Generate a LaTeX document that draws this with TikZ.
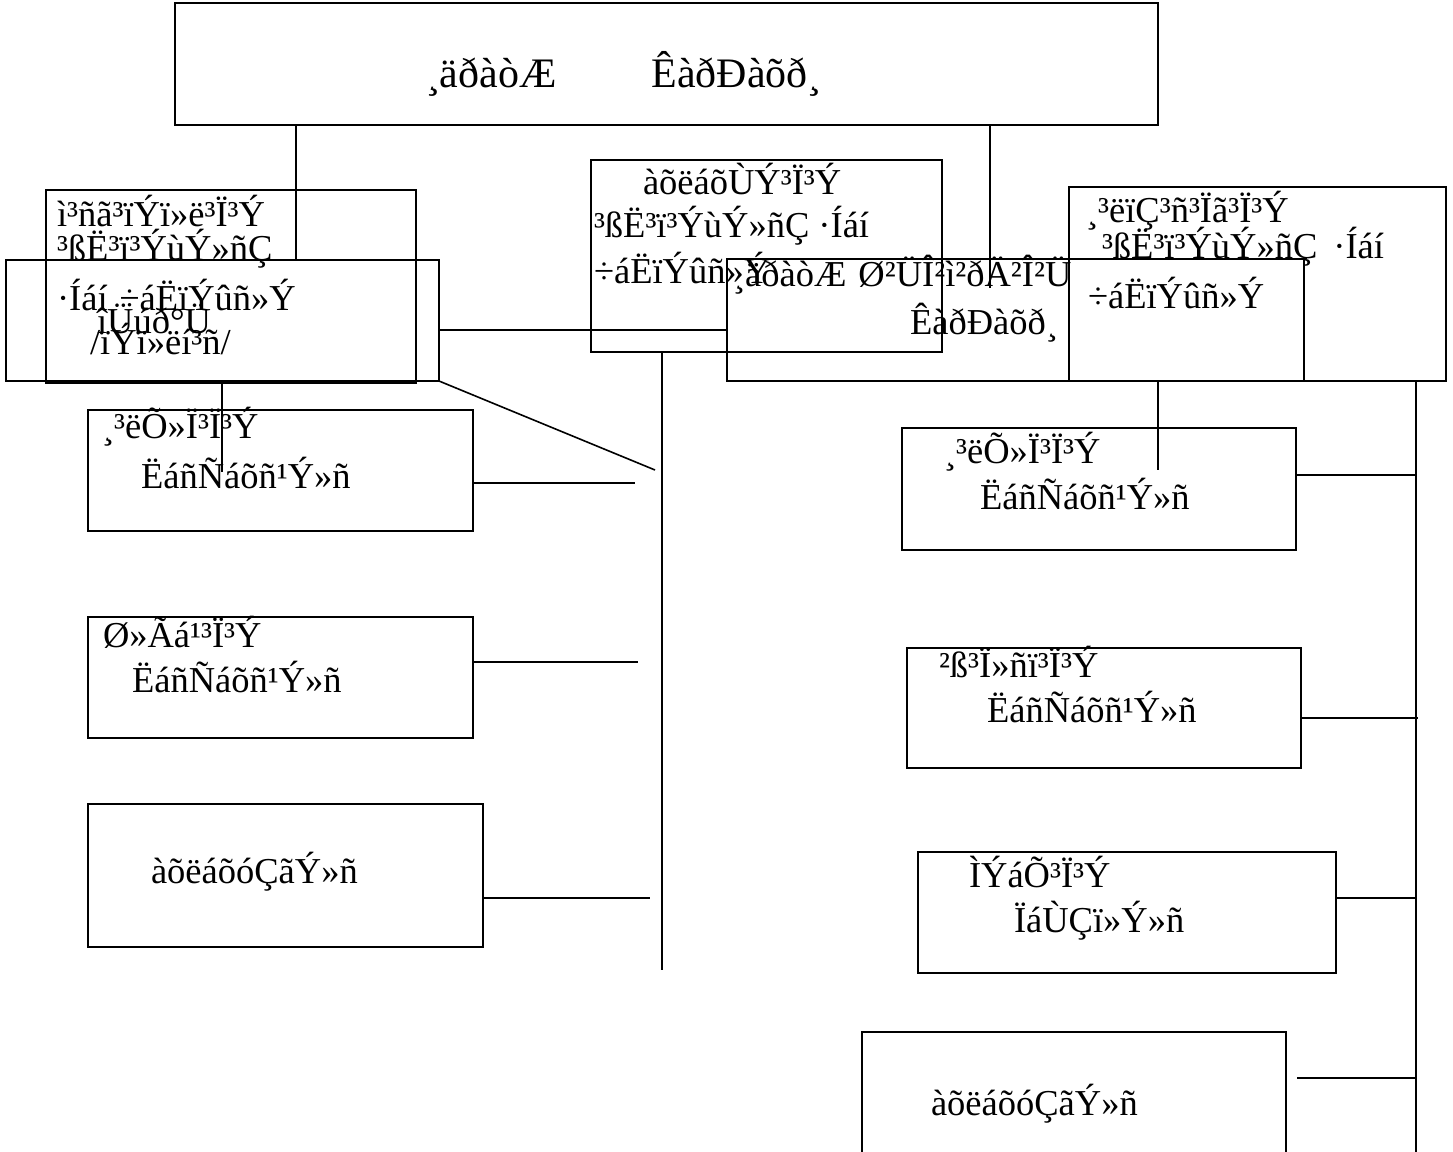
\documentclass[tikz,border=0pt]{standalone}
\usepackage{fontspec}
\setmainfont{Liberation Serif}
\begin{document}
\begin{tikzpicture}[x=1pt,y=-1pt,
  box/.style={draw,line width=1.6pt,inner sep=0pt,outer sep=0pt,anchor=north west},
  txt/.style={anchor=base west,inner sep=0pt,outer sep=0pt,font=\fontsize{36.5}{40}\selectfont},
  bigtxt/.style={anchor=base west,inner sep=0pt,outer sep=0pt,font=\fontsize{42}{46}\selectfont},
  link/.style={line width=1.6pt}]
\useasboundingbox (0,0) rectangle (1453,1151);
\clip (0,0) rectangle (1453,1151);
% boxes
\node[box,minimum width=983pt,minimum height=122pt] (top) at (175,3) {};
\node[box,minimum width=370pt,minimum height=193pt] (A) at (46,190) {};
\node[box,minimum width=433pt,minimum height=121pt] (B) at (6,260) {};
\node[box,minimum width=351pt,minimum height=192pt] (E) at (591,160) {};
\node[box,minimum width=577pt,minimum height=122pt] (D) at (727,259) {};
\node[box,minimum width=377pt,minimum height=194pt] (C) at (1069,187) {};
\node[box,minimum width=385pt,minimum height=121pt] (F) at (88,410) {};
\node[box,minimum width=385pt,minimum height=121pt] (G) at (88,617) {};
\node[box,minimum width=395pt,minimum height=143pt] (H) at (88,804) {};
\node[box,minimum width=394pt,minimum height=122pt] (I) at (902,428) {};
\node[box,minimum width=394pt,minimum height=120pt] (J) at (907,648) {};
\node[box,minimum width=418pt,minimum height=121pt] (K) at (918,852) {};
\node[box,minimum width=424pt,minimum height=140pt] (L) at (862,1032) {};
% texts
\node[bigtxt] (ttop) at (426,87) {¸äðàòÆ\hspace{95pt}ÊàðÐàõð¸};
\node[txt] (ta1) at (57,226) {ì³ñã³ïÝï»ë³Ï³Ý};
\node[txt] (ta2) at (57,260) {³ßË³ï³ÝùÝ»ñÇ};
\node[txt] (ta3) at (57,310) {·Íáí\hspace{12pt}÷áËïÝûñ»Ý};
\node[txt] (tb1) at (97,333) {îÜúð°Ü};
\node[txt] (tb2) at (90,354) {/ïÝï»ëí³ñ/};
\node[txt] (te1) at (643,194) {àõëáõÙÝ³Ï³Ý};
\node[txt] (te2) at (594,237) {³ßË³ï³ÝùÝ»ñÇ ·Íáí};
\node[txt] (te3) at (594,283) {÷áËïÝûñ»Ý};
\node[txt] (td1) at (733,286) {¸äðàòÆ\hspace{12pt}Ø²ÜÎ²ì²ðÄ²Î²Ü};
\node[txt] (td2) at (910,334) {ÊàðÐàõð¸};
\node[txt] (tc1) at (1086,222) {¸³ëïÇ³ñ³Ïã³Ï³Ý};
\node[txt] (tc2) at (1102,258) {³ßË³ï³ÝùÝ»ñÇ\hspace{16pt}·Íáí};
\node[txt] (tc3) at (1088,308) {÷áËïÝûñ»Ý};
\node[txt] (tf1) at (102,438) {¸³ëÕ»Ï³Ï³Ý};
\node[txt] (tf2) at (141,488) {ËáñÑáõñ¹Ý»ñ};
\node[txt] (tg1) at (103,647) {Ø»Ãá¹³Ï³Ý};
\node[txt] (tg2) at (132,692) {ËáñÑáõñ¹Ý»ñ};
\node[txt] (th1) at (151,883) {àõëáõóÇãÝ»ñ};
\node[txt] (ti1) at (944,463) {¸³ëÕ»Ï³Ï³Ý};
\node[txt] (ti2) at (980,509) {ËáñÑáõñ¹Ý»ñ};
\node[txt] (tj1) at (939,677) {²ß³Ï»ñï³Ï³Ý};
\node[txt] (tj2) at (987,722) {ËáñÑáõñ¹Ý»ñ};
\node[txt] (tk1) at (969,887) {ÌÝáÕ³Ï³Ý};
\node[txt] (tk2) at (1014,932) {ÏáÙÇï»Ý»ñ};
\node[txt] (tl1) at (931,1115) {àõëáõóÇãÝ»ñ};
% free ends
\coordinate (c1) at (296,260);
\coordinate (c2) at (990,288);
\coordinate (hb) at (0,330);
\coordinate (d1) at (655,470);
\coordinate (lb) at (662,970);
\coordinate (v1) at (222,472);
\coordinate (v2) at (1158,470);
\coordinate (rb) at (1416,1160);
\coordinate (sf) at (635,483);
\coordinate (sg) at (638,662);
\coordinate (sh) at (650,898);
\coordinate (si) at (1416,475);
\coordinate (sj) at (1418,718);
\coordinate (sk) at (1416,898);
\coordinate (sl0) at (1297,1078);
\coordinate (sl) at (1416,1078);
% connectors
\draw[link] (top.south -| c1) -- (c1);
\draw[link] (top.south -| c2) -- (c2);
\draw[link] (B.east |- hb) -- (D.west |- hb);
\draw[link] (B.south east) -- (d1);
\draw[link] (E.south -| lb) -- (lb);
\draw[link] (B.south -| v1) -- (v1);
\draw[link] (F.east |- sf) -- (sf);
\draw[link] (G.east |- sg) -- (sg);
\draw[link] (H.east |- sh) -- (sh);
\draw[link] (C.south -| v2) -- (v2);
\draw[link] (C.south -| rb) -- (rb);
\draw[link] (I.east |- si) -- (si);
\draw[link] (J.east |- sj) -- (sj);
\draw[link] (K.east |- sk) -- (sk);
\draw[link] (sl0) -- (sl);
\end{tikzpicture}
\end{document}
